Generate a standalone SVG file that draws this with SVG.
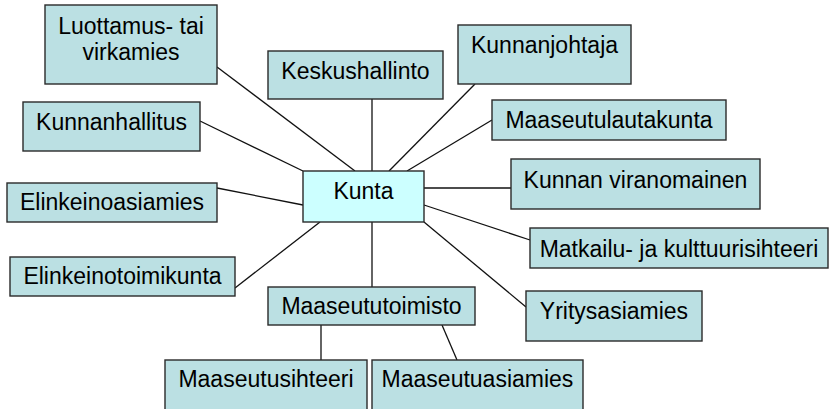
<svg xmlns="http://www.w3.org/2000/svg" width="829" height="409" viewBox="0 0 829 409">
<style>
.b{fill:#BBE0E3;stroke:#2a2a2a;stroke-width:1.4}
.k{fill:#CCFFFF;stroke:#2a2a2a;stroke-width:1.4}
.t{font-family:"Liberation Sans",Arial,sans-serif;font-size:23px;fill:#000;text-anchor:middle}
.c line{stroke:#111;stroke-width:1.3}
</style>
<rect width="829" height="409" fill="#fff"/>
<g class="c" id="connectors">
<line x1="217" y1="67" x2="355" y2="171"/>
<line x1="200" y1="121" x2="303" y2="171"/>
<line x1="372" y1="99" x2="372" y2="171"/>
<line x1="475" y1="84" x2="389" y2="171"/>
<line x1="492" y1="120" x2="407" y2="171"/>
<line x1="424" y1="188" x2="511" y2="188"/>
<line x1="424" y1="205" x2="530" y2="240"/>
<line x1="424" y1="222" x2="526" y2="307"/>
<line x1="217" y1="188" x2="303" y2="205"/>
<line x1="235" y1="288" x2="320" y2="222"/>
<line x1="372" y1="222" x2="372" y2="287"/>
<line x1="321" y1="325" x2="321" y2="360"/>
<line x1="442" y1="325" x2="457" y2="360"/>
</g>
<g id="luottamus"><rect class="b" x="45" y="5" width="172" height="79"/><text class="t" x="131" y="34">Luottamus- tai</text><text class="t" x="131" y="60">virkamies</text></g>
<g id="keskushallinto"><rect class="b" x="268" y="51" width="175" height="48"/><text class="t" x="355.5" y="78.5">Keskushallinto</text></g>
<g id="kunnanjohtaja"><rect class="b" x="458" y="25" width="173" height="59"/><text class="t" x="544.5" y="53">Kunnanjohtaja</text></g>
<g id="kunnanhallitus"><rect class="b" x="23" y="102" width="177" height="49"/><text class="t" x="111.5" y="129.5">Kunnanhallitus</text></g>
<g id="maaseutulautakunta"><rect class="b" x="492" y="100" width="234" height="40"/><text class="t" x="609" y="128">Maaseutulautakunta</text></g>
<g id="kunta"><rect class="k" x="303" y="171" width="121" height="51"/><text class="t" x="363.5" y="199">Kunta</text></g>
<g id="kunnan-viranomainen"><rect class="b" x="511" y="159" width="249" height="50"/><text class="t" x="635.5" y="187.5">Kunnan viranomainen</text></g>
<g id="elinkeinoasiamies"><rect class="b" x="7" y="183" width="210" height="39"/><text class="t" x="112" y="210">Elinkeinoasiamies</text></g>
<g id="matkailu"><rect class="b" x="530" y="228" width="298" height="40"/><text class="t" x="679" y="256.5">Matkailu- ja kulttuurisihteeri</text></g>
<g id="elinkeinotoimikunta"><rect class="b" x="10" y="257" width="225" height="39"/><text class="t" x="122.5" y="284">Elinkeinotoimikunta</text></g>
<g id="yritysasiamies"><rect class="b" x="526" y="291" width="176" height="50"/><text class="t" x="614" y="318.5">Yritysasiamies</text></g>
<g id="maaseututoimisto"><rect class="b" x="268" y="287" width="207" height="38"/><text class="t" x="371.5" y="313.5">Maaseututoimisto</text></g>
<g id="maaseutusihteeri"><rect class="b" x="165" y="360" width="202" height="60"/><text class="t" x="266" y="386.5">Maaseutusihteeri</text></g>
<g id="maaseutuasiamies"><rect class="b" x="372" y="360" width="211" height="60"/><text class="t" x="477.5" y="386.5">Maaseutuasiamies</text></g>
</svg>
